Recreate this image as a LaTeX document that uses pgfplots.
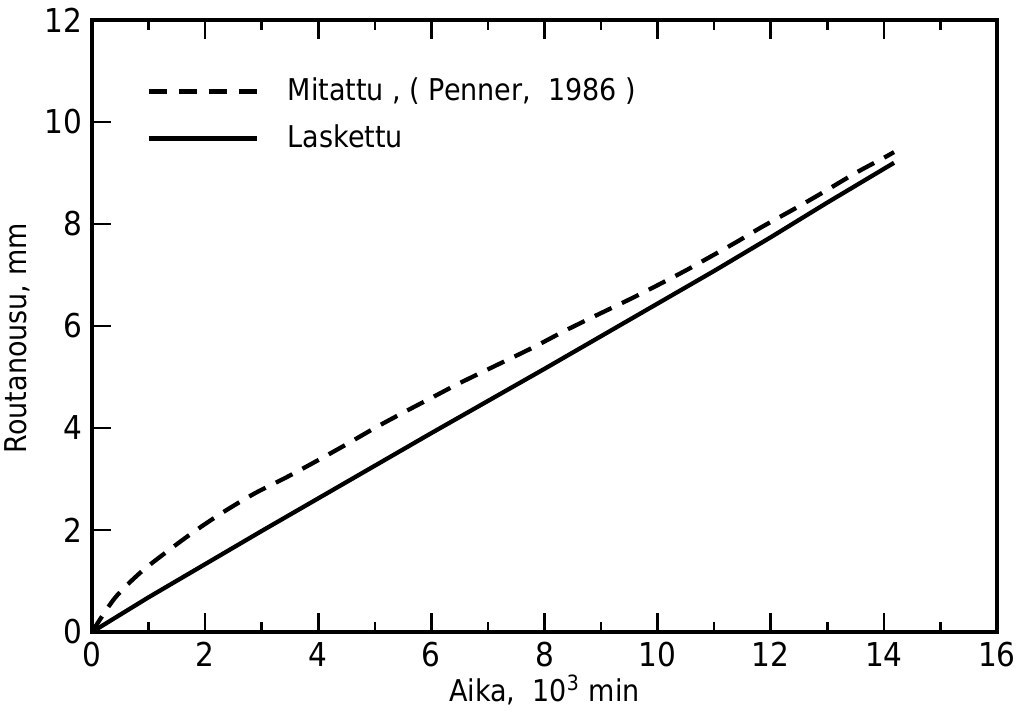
\documentclass[border=0pt]{standalone}
\usepackage{fontspec}
\setmainfont{DejaVu Sans Condensed}
\usepackage{pgfplots}
\pgfplotsset{compat=1.18}
\begin{document}
\begin{tikzpicture}
\begin{axis}[
  scale only axis,
  width=316.75pt, height=214.2pt,
  xmin=0, xmax=16, ymin=0, ymax=12,
  xtick={0,2,...,16}, ytick={0,2,...,12},
  minor x tick num=1,
  xtick pos=both, ytick pos=left,
  tick align=inside,
  major tick length=6.5pt, minor tick length=3.5pt,
  every tick/.style={black, line width=0.9pt},
  axis line style={line width=1.4pt},
  /pgf/number format/assume math mode=true,
  tick label style={font=\fontsize{11.5}{13}\selectfont},
  label style={font=\fontsize{10.5}{12}\selectfont},
  xlabel={Aika,\ \ 10\textsuperscript{3} min},
  ylabel={Routanousu, mm},
  xlabel style={at={(axis description cs:0.5,-0.095)}, anchor=center},
  ylabel style={at={(axis description cs:-0.082,0.48)}, anchor=center},
  legend style={at={(axis description cs:0.05,0.925)}, anchor=north west,
    draw=none, fill=none, font=\fontsize{10.5}{12}\selectfont,
    row sep=3pt, /tikz/every odd column/.append style={column sep=8pt}},
  legend cell align=left,
  legend image code/.code={\draw[#1] (0pt,0pt) -- (38pt,0pt);},
]
\addplot[black, line width=1.5pt, dash pattern=on 6.5pt off 4pt, smooth] coordinates {
(0,0) (0.4,0.66) (0.85,1.16) (1.33,1.58) (1.82,1.98) (2.32,2.35) (2.88,2.72)
(3.45,3.04) (4.0,3.37) (4.5,3.68) (5.0,4.0) (5.5,4.3) (6.0,4.59)
(6.5,4.88) (7.15,5.23) (7.8,5.58) (8.35,5.9) (8.9,6.2) (9.5,6.52)
(10.0,6.8) (10.5,7.09) (10.92,7.35) (11.4,7.65) (11.84,7.94) (12.44,8.31)
(12.94,8.63) (13.5,9.0) (14.02,9.31) (14.18,9.41)
};
\addlegendentry{Mitattu , ( Penner,\ \ 1986 )}
\addplot[black, line width=1.5pt] coordinates {
(0,0) (1,0.68) (2,1.33) (3,1.98) (4,2.62) (5,3.26) (6,3.9) (7,4.53)
(8,5.16) (9,5.8) (10,6.44) (11,7.08) (12,7.74) (13,8.42) (14.18,9.2)
};
\addlegendentry{Laskettu}
\end{axis}
\pgfresetboundingbox
\path ([shift={(-32.2pt,-29.75pt)}]current axis.south west) rectangle ([shift={(7.7pt,7pt)}]current axis.north east);
\end{tikzpicture}
\end{document}
